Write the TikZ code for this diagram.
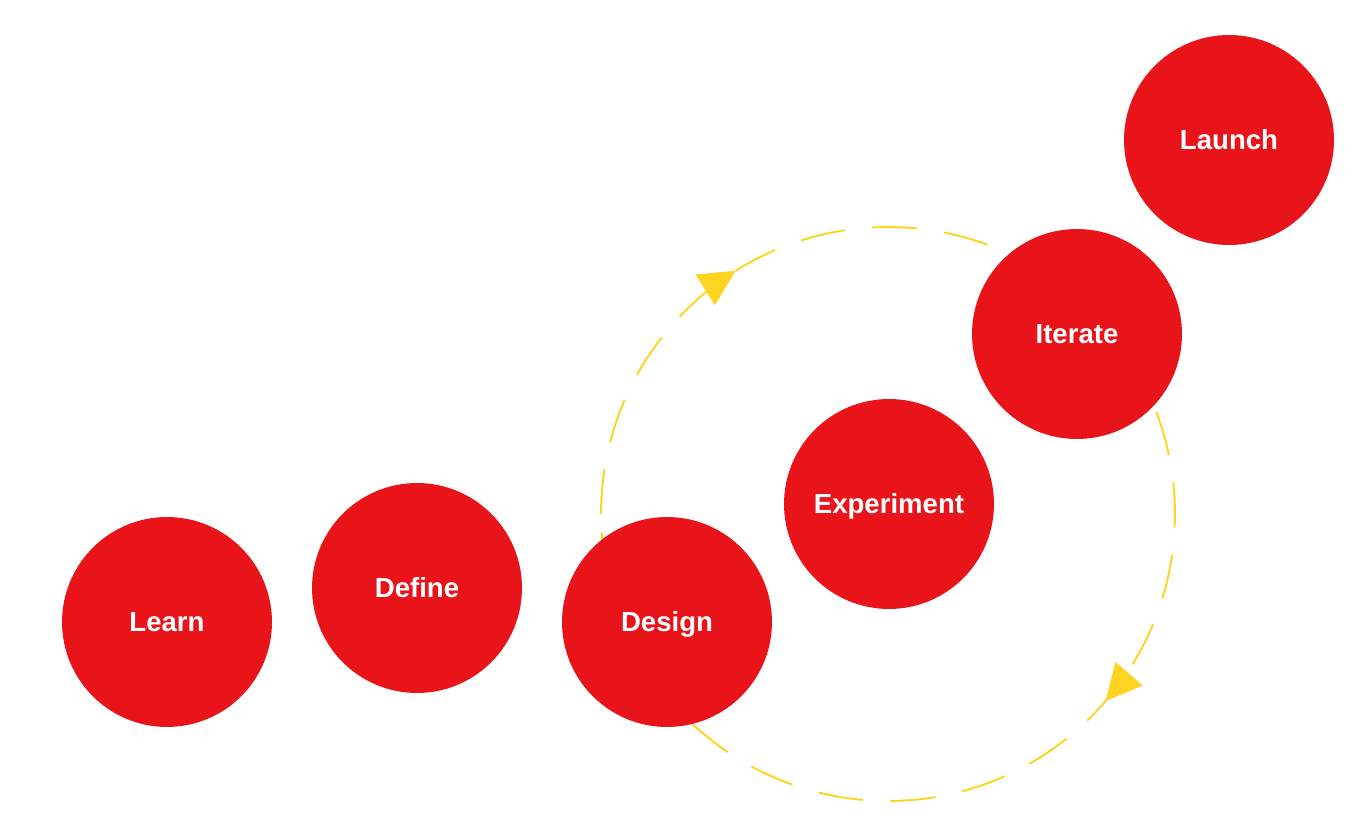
\documentclass[tikz,border=0pt]{standalone}
\usepackage{fontspec}
\setmainfont{Liberation Sans}
\usetikzlibrary{arrows.meta,decorations.markings}
\definecolor{stepred}{HTML}{E8141A}
\definecolor{loopyellow}{HTML}{FDD422}
\tikzset{
  stage/.style={circle, fill=stepred, minimum size=4.2cm, inner sep=0pt, text=white,
    text height=11.2pt, text depth=0pt, font=\fontsize{15.7}{18}\selectfont\bfseries},
  loopline/.style={draw=loopyellow, line width=1.1pt, dash pattern=on 0.9cm off 0.55cm},
  looptip/.style={Triangle[length=0.72cm,width=0.72cm,fill=loopyellow,color=loopyellow]},
}
\begin{document}
\begin{tikzpicture}[x=0.02cm,y=-0.02cm]
\useasboundingbox (0,0) rectangle (1366,834);
\coordinate (loopc) at (888,514);
\draw[loopline] (loopc) ++(180:5.74cm) arc[start angle=180, end angle=-180, radius=5.74cm];
\path[postaction={decorate, decoration={markings,
   mark=at position 0.161 with {\arrow[loopyellow]{Triangle[length=0.72cm,width=0.72cm]}},
   mark=at position 0.613 with {\arrow[loopyellow]{Triangle[length=0.72cm,width=0.72cm]}}}}]
   (loopc) ++(180:5.74cm) arc[start angle=180, end angle=-180, radius=5.74cm];
\node[stage] (learn) at (167,622) {Learn};
\node[stage] (define) at (417,588) {Define};
\node[stage] (design) at (667,622) {Design};
\node[stage] (experiment) at (889,504) {Experiment};
\node[stage] (iterate) at (1077,334) {Iterate};
\node[stage] (launch) at (1229,140) {Launch};
\end{tikzpicture}
\end{document}
